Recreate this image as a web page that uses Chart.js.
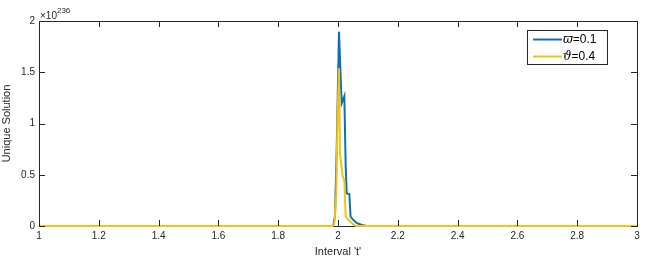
<!DOCTYPE html>
<html>
<head>
<meta charset="utf-8">
<script src="https://cdn.jsdelivr.net/npm/chart.js@4/dist/chart.umd.min.js"></script>
<style>
  html, body { margin: 0; padding: 0; background: #fff; }
  #wrap { width: 651px; height: 259px; }
</style>
</head>
<body>
<div id="wrap"><canvas id="solutionChart" width="651" height="259"></canvas></div>
<script>
// values in units of 10^236
const blueT = [1, 1.984, 1.990, 1.996, 2.0033, 2.0123, 2.0212, 2.0256, 2.029, 2.038, 2.042, 2.051, 2.062, 2.08, 2.096, 3];
const blueY = [0, 0, 0.1, 0.8, 1.896, 1.197, 1.268, 0.6, 0.319, 0.31, 0.091, 0.06, 0.03, 0.01, 0, 0];
const yellowT = [1, 1.982, 1.988, 1.994, 1.998, 2.0033, 2.0067, 2.0156, 2.0212, 2.0256, 2.036, 2.049, 2.06, 3];
const yellowY = [0, 0, 0.03, 0.3, 1.0, 1.538, 0.709, 0.481, 0.449, 0.091, 0.059, 0.02, 0, 0];
const xTicks = [1, 1.2, 1.4, 1.6, 1.8, 2, 2.2, 2.4, 2.6, 2.8, 3];
const yTicks = [0, 0.5, 1, 1.5, 2];
const seriesSymbols = ['ϖ', 'ϑ'];
const seriesValues = ['=0.1', '=0.4'];
const exponent = '236';

const FONT = 'Liberation Sans, Arial, sans-serif';
Chart.defaults.font.family = FONT;
Chart.defaults.color = '#262626';

function toPoints(ts, ys) {
    return ts.map((t, i) => ({ x: t, y: ys[i] }));
}

// box, inward ticks, exponent and legend, MATLAB style
const matlabBox = {
    id: 'matlabBox',
    afterDatasetsDraw(chart) {
        const { ctx, chartArea: a, scales } = chart;
        ctx.save();
        ctx.strokeStyle = '#262626';
        ctx.lineWidth = 1;
        ctx.beginPath();
        ctx.moveTo(a.left + 0.5, a.bottom + 0.5);
        ctx.lineTo(a.left + 0.5, a.top + 0.5);
        ctx.lineTo(a.right + 0.5, a.top + 0.5);
        ctx.lineTo(a.right + 0.5, a.bottom + 0.5);
        ctx.stroke();
        ctx.beginPath();
        xTicks.forEach(v => {
            const x = Math.round(scales.x.getPixelForValue(v)) + 0.5;
            ctx.moveTo(x, a.bottom); ctx.lineTo(x, a.bottom - 6);
            ctx.moveTo(x, a.top); ctx.lineTo(x, a.top + 6);
        });
        yTicks.forEach(v => {
            const y = Math.round(scales.y.getPixelForValue(v)) + 0.5;
            ctx.moveTo(a.left, y); ctx.lineTo(a.left + 6, y);
            ctx.moveTo(a.right, y); ctx.lineTo(a.right - 6, y);
        });
        ctx.stroke();

        // x10^236
        ctx.fillStyle = '#262626';
        ctx.textBaseline = 'alphabetic';
        ctx.textAlign = 'left';
        ctx.font = '10px ' + FONT;
        ctx.fillText('×10', a.left + 1, a.top - 2);
        const w = ctx.measureText('×10').width;
        ctx.font = '8px ' + FONT;
        ctx.fillText(exponent, a.left + 1 + w, a.top - 8);

        // legend
        const lx = 527, ly = 30, lw = 80, lh = 34;
        ctx.fillStyle = '#fff';
        ctx.fillRect(lx, ly, lw, lh);
        ctx.strokeStyle = '#262626';
        ctx.strokeRect(lx + 0.5, ly + 0.5, lw, lh);
        [0, 1].forEach(i => {
            const ds = chart.data.datasets[i];
            const y = ly + 9.5 + i * 17;
            ctx.strokeStyle = ds.borderColor;
            ctx.lineWidth = 2;
            ctx.beginPath();
            ctx.moveTo(lx + 6, y); ctx.lineTo(lx + 35, y);
            ctx.stroke();
            ctx.fillStyle = '#000';
            ctx.textBaseline = 'middle';
            ctx.font = 'italic 12px DejaVu Serif, serif';
            ctx.fillText(seriesSymbols[i], lx + 36, y + 0.5);
            const sw = ctx.measureText(seriesSymbols[i]).width;
            ctx.font = '12px ' + FONT;
            ctx.fillText(seriesValues[i], lx + 36 + sw, y + 0.5);
        });
        ctx.restore();
    }
};

const ctx = document.getElementById('solutionChart').getContext('2d');
new Chart(ctx, {
    type: 'line',
    data: {
        datasets: [
            {
                label: seriesSymbols[0] + seriesValues[0],
                data: toPoints(blueT, blueY),
                borderColor: '#0f6fb0',
                borderWidth: 2,
                pointRadius: 0,
                tension: 0,
                clip: false,
                order: 2
            },
            {
                label: seriesSymbols[1] + seriesValues[1],
                data: toPoints(yellowT, yellowY),
                borderColor: '#f2c214',
                borderWidth: 2,
                pointRadius: 0,
                tension: 0,
                clip: false,
                order: 1
            }
        ]
    },
    options: {
        responsive: false,
        animation: false,
        events: [],
        layout: { padding: { left: 0, top: 21, right: 14, bottom: 0 } },
        plugins: {
            legend: { display: false },
            tooltip: { enabled: false }
        },
        scales: {
            x: {
                type: 'linear',
                min: 1,
                max: 3,
                afterBuildTicks: s => { s.ticks = xTicks.map(v => ({ value: v })); },
                afterFit: s => { s.height = 33; },
                grid: { display: false, drawTicks: false },
                border: { display: true, color: '#262626', width: 1 },
                ticks: {
                    padding: 4,
                    font: { size: 10 },
                    maxRotation: 0,
                    callback: v => String(v)
                },
                title: {
                    display: true,
                    text: "Interval 't'",
                    font: { size: 11 },
                    padding: { top: 0, bottom: 0 }
                }
            },
            y: {
                min: 0,
                max: 2,
                afterBuildTicks: s => { s.ticks = yTicks.map(v => ({ value: v })); },
                afterFit: s => { s.width = 39; },
                grid: { display: false, drawTicks: false },
                border: { display: true, color: '#262626', width: 1 },
                ticks: {
                    padding: 4,
                    font: { size: 10 },
                    callback: v => String(v)
                },
                title: {
                    display: true,
                    text: 'Unique Solution',
                    font: { size: 11 },
                    padding: { top: 0, bottom: 0 }
                }
            }
        }
    },
    plugins: [matlabBox]
});
</script>
</body>
</html>
